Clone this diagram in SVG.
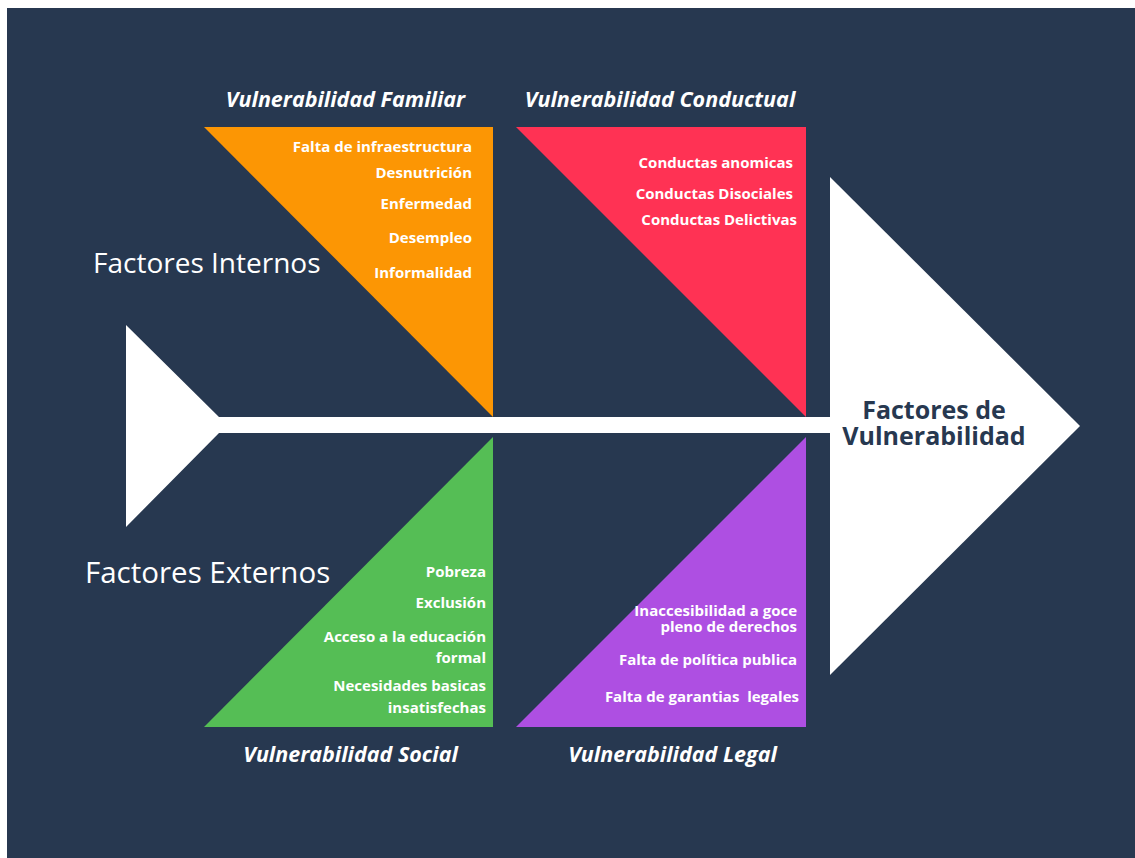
<svg xmlns="http://www.w3.org/2000/svg" width="1135" height="858" viewBox="0 0 1135 858">
<style>
.title{font-family:"Open Sans","Liberation Sans",sans-serif;font-weight:700;font-style:italic;font-size:21.5px;fill:#ffffff;text-anchor:middle}
.item{font-family:"Open Sans","Liberation Sans",sans-serif;font-weight:700;font-size:15px;fill:#ffffff;text-anchor:end}
.side{font-family:"Open Sans","Liberation Sans",sans-serif;font-weight:400;font-size:28px;fill:#ffffff}
.head{font-family:"Open Sans","Liberation Sans",sans-serif;font-weight:700;font-size:25px;fill:#273850;text-anchor:middle}
.wh{fill:#ffffff}
</style>
<rect x="0" y="0" width="1135" height="858" fill="#ffffff"/>
<rect x="7" y="8" width="1128" height="850" fill="#273850"/>

<g id="connectors">
  <polygon class="wh" points="126,325 219,417 831,417 831,433 219,433 126,527"/>
</g>

<g id="head">
  <polygon class="wh" points="830,177 1080,426 830,675"/>
  <text class="head" x="934" y="419">Factores de</text>
  <text class="head" x="934" y="445">Vulnerabilidad</text>
</g>

<g id="label-internos">
  <text class="side" x="93" y="273">Factores Internos</text>
</g>
<g id="label-externos">
  <text class="side" x="85" y="583" style="font-size:29.5px">Factores Externos</text>
</g>

<g id="familiar">
  <polygon points="204,127 493,127 493,417" fill="#fc9604"/>
  <text class="title" x="345.5" y="107">Vulnerabilidad Familiar</text>
  <text class="item" x="472" y="152">Falta de infraestructura</text>
  <text class="item" x="472" y="178">Desnutrición</text>
  <text class="item" x="472" y="209">Enfermedad</text>
  <text class="item" x="472" y="243">Desempleo</text>
  <text class="item" x="472" y="278">Informalidad</text>
</g>

<g id="conductual">
  <polygon points="516,127 806,127 806,417" fill="#ff3254"/>
  <text class="title" x="660" y="107">Vulnerabilidad Conductual</text>
  <text class="item" x="793" y="168">Conductas anomicas</text>
  <text class="item" x="793" y="199">Conductas Disociales</text>
  <text class="item" x="797" y="225">Conductas Delictivas</text>
</g>

<g id="social">
  <polygon points="493,437 493,727 204,727" fill="#55be55"/>
  <text class="title" x="350.5" y="762">Vulnerabilidad Social</text>
  <text class="item" x="486" y="577">Pobreza</text>
  <text class="item" x="486" y="608">Exclusión</text>
  <text class="item" x="486" y="642">Acceso a la educación</text>
  <text class="item" x="486" y="663">formal</text>
  <text class="item" x="486" y="691">Necesidades basicas</text>
  <text class="item" x="486" y="713">insatisfechas</text>
</g>

<g id="legal">
  <polygon points="806,437 806,727 516,727" fill="#ae4fe2"/>
  <text class="title" x="672.5" y="762">Vulnerabilidad Legal</text>
  <text class="item" x="797" y="616">Inaccesibilidad a goce</text>
  <text class="item" x="797" y="632">pleno de derechos</text>
  <text class="item" x="797" y="665">Falta de política publica</text>
  <text class="item" x="799" y="702" xml:space="preserve">Falta de garantias  legales</text>
</g>
</svg>
